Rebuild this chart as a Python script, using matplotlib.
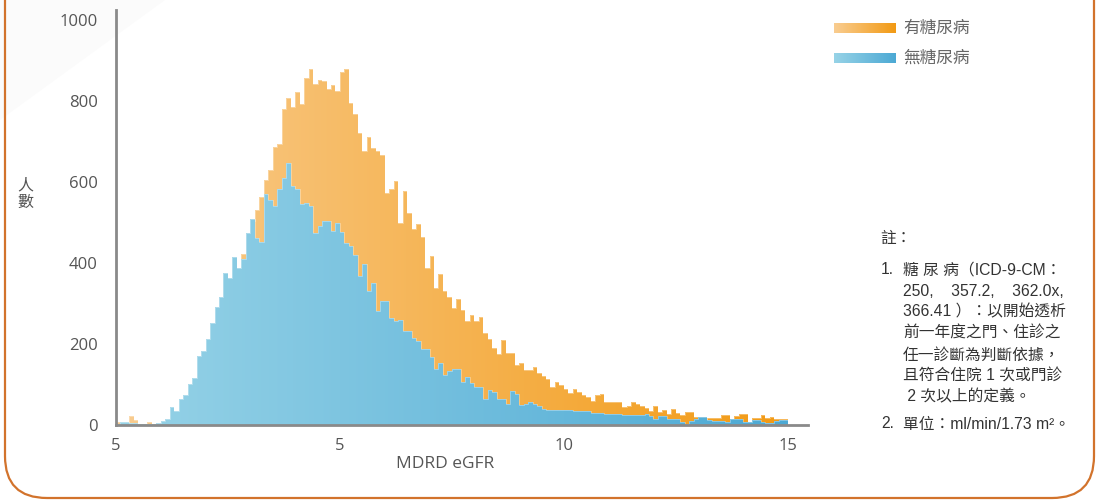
import numpy as np
import matplotlib
matplotlib.use('Agg')
import matplotlib.pyplot as plt
from matplotlib.colors import LinearSegmentedColormap
from matplotlib.patches import FancyBboxPatch, Polygon

# ---------------- data ----------------
bin_start = 0.0
bin_width = 0.1

diabetes = [7, 3, 2, 22, 12, 1, 3, 7, 1, 3,
            5, 8, 20, 18, 30, 38, 55, 68, 100, 115,
            140, 175, 210, 240, 300, 310, 370, 380, 422, 470,
            505, 530, 563, 605, 631, 686, 694, 780, 807, 786,
            822, 792, 856, 879, 841, 853, 849, 831, 839, 826,
            872, 879, 796, 768, 722, 677, 711, 683, 677, 668,
            574, 584, 602, 500, 579, 523, 484, 496, 465, 387,
            418, 339, 374, 332, 316, 288, 310, 283, 258, 272,
            257, 266, 226, 213, 189, 175, 210, 179, 179, 147,
            152, 137, 137, 144, 129, 122, 113, 95, 105, 100,
            90, 78, 89, 82, 74, 70, 59, 73, 76, 58,
            58, 58, 58, 44, 47, 58, 51, 47, 41, 35,
            47, 31, 37, 26, 40, 29, 25, 32, 32, 20,
            16, 16, 18, 18, 18, 25, 25, 16, 21, 27,
            27, 6, 18, 18, 24, 18, 20, 16, 14, 14]

no_diabetes = [2, 8, 7, 5, 4, 3, 3, 2, 2, 6,
               10, 16, 45, 35, 64, 73, 101, 116, 170, 184,
               212, 253, 291, 315, 376, 364, 415, 388, 409, 473,
               508, 462, 453, 570, 556, 542, 583, 611, 646, 590,
               583, 547, 549, 542, 473, 492, 504, 504, 479, 499,
               476, 450, 442, 420, 367, 398, 330, 351, 281, 307,
               307, 265, 258, 259, 232, 232, 216, 208, 187, 187,
               167, 139, 153, 124, 134, 138, 138, 106, 119, 104,
               94, 94, 63, 86, 82, 63, 63, 53, 84, 77,
               49, 53, 57, 52, 47, 39, 37, 37, 37, 37,
               37, 37, 34, 34, 34, 34, 30, 30, 30, 26,
               26, 27, 27, 24, 24, 24, 24, 24, 26, 22,
               15, 21, 21, 15, 15, 14, 8, 2, 10, 14,
               19, 19, 12, 11, 11, 11, 7, 15, 15, 14,
               8, 8, 12, 12, 7, 4, 4, 10, 12, 12]

x_ticks = [0, 5, 10, 15]
x_tick_labels = ['5', '5', '10', '15']
y_ticks = [0, 200, 400, 600, 800, 1000]
legend_labels = ['有糖尿病', '無糖尿病']
x_label = 'MDRD eGFR'
y_label = '人\n數'
note_title = '註：'
note_lines = ['糖 尿 病（ICD-9-CM：',
              '250,    357.2,    362.0x,',
              '366.41 ）：以開始透析',
              '前一年度之門、住診之',
              '任一診斷為判斷依據，',
              '且符合住院 1 次或門診',
              ' 2 次以上的定義。']
note2 = '單位：ml/min/1.73 m²。'

orange_grad = ['#F9CD91', '#F29A14']
blue_grad = ['#97D3E7', '#4CA9D4']

LAT = ['Open Sans', 'Noto Sans CJK TC', 'DejaVu Sans']
NOTE = ['Liberation Sans', 'Noto Sans CJK TC', 'DejaVu Sans']
CJK = ['Noto Sans CJK TC', 'DejaVu Sans']

W, H = 1097, 503
fig = plt.figure(figsize=(W / 100, H / 100), dpi=100)


def fx(px):
    return px / W


def fy(py):
    return 1 - py / H


# faint background corner shade
fig.add_artist(Polygon([(fx(0), fy(0)), (fx(0), fy(120)), (fx(165), fy(0))],
                       closed=True, facecolor='#fbfbfb', edgecolor='none',
                       transform=fig.transFigure, zorder=0))

ax = fig.add_axes([fx(116), fy(425), (808 - 116) / W, (425 - 10) / H])
ax.patch.set_alpha(0)
edges = bin_start + bin_width * np.arange(len(diabetes) + 1)


def grad_hist(vals, colors, z):
    sp = ax.stairs(vals, edges, fill=True, facecolor='none',
                   edgecolor='none', zorder=z)
    cmap = LinearSegmentedColormap.from_list('g', colors)
    grad = np.linspace(0, 1, 256).reshape(1, -1)
    im = ax.imshow(grad, cmap=cmap, extent=(edges[0], edges[-1], 0, max(vals) + 5),
                   aspect='auto', origin='lower', zorder=z,
                   interpolation='bilinear')
    im.set_clip_path(sp)
    ax.stairs(vals, edges, fill=False, edgecolor='white', lw=0.5,
              alpha=0.45, zorder=z + 0.1)


grad_hist(diabetes, orange_grad, 2)
grad_hist(no_diabetes, blue_grad, 3)

ax.set_xlim(0, 15.45)
ax.set_ylim(0, 1025)
ax.set_aspect('auto')

for s in ['top', 'right']:
    ax.spines[s].set_visible(False)
for s in ['left', 'bottom']:
    ax.spines[s].set_color('#8a8a8a')
    ax.spines[s].set_linewidth(2)
    ax.spines[s].set_zorder(5)

ax.set_xticks(x_ticks)
ax.set_xticklabels(x_tick_labels)
ax.set_yticks(y_ticks)
ax.set_yticklabels([str(v) for v in y_ticks])
ax.tick_params(axis='both', length=0, labelsize=12, colors='#555555')
ax.tick_params(axis='y', pad=13)
ax.tick_params(axis='x', pad=9)
for lab in ax.get_xticklabels() + ax.get_yticklabels():
    lab.set_family(LAT)

fig.text(fx(445), fy(464), x_label, ha='center', va='center',
         fontsize=12.5, color='#555555', family=LAT)
fig.text(fx(25), fy(194), y_label, ha='center', va='center',
         fontsize=11.5, color='#555555', family=CJK, linespacing=1.05)

# legend
cmaps = [orange_grad, blue_grad]
for i, (lab, cols) in enumerate(zip(legend_labels, cmaps)):
    yc = 28 + 30 * i
    lax = fig.add_axes([fx(834), fy(yc + 5), 62 / W, 10 / H])
    lax.imshow(np.linspace(0, 1, 256).reshape(1, -1),
               cmap=LinearSegmentedColormap.from_list('l', cols),
               aspect='auto', interpolation='bilinear')
    lax.axis('off')
    fig.text(fx(903), fy(yc), lab, ha='left', va='center', fontsize=12,
             color='#666666', family=CJK)

# notes
NFS = 11.3
fig.text(fx(880), fy(238), note_title, ha='left', va='center', fontsize=NFS,
         color='#333333', family=NOTE)
fig.text(fx(881), fy(270), '1.', ha='left', va='center', fontsize=NFS,
         color='#333333', family=NOTE)
line_y = [270, 291, 312, 333, 355, 376, 397]
for ly, t in zip(line_y, note_lines):
    fig.text(fx(903), fy(ly), t, ha='left', va='center', fontsize=NFS,
             color='#333333', family=NOTE)
fig.text(fx(881), fy(424), '2.', ha='left', va='center', fontsize=NFS,
         color='#333333', family=NOTE)
fig.text(fx(903), fy(424), note2, ha='left', va='center', fontsize=NFS,
         color='#333333', family=NOTE)

# frame
frame = FancyBboxPatch((0.05, 0.05), 10.89, 6.0,
                       boxstyle='round,pad=0,rounding_size=0.42',
                       transform=fig.dpi_scale_trans, facecolor='none',
                       edgecolor='#D2732C', lw=1.6, clip_on=False)
fig.add_artist(frame)

fig.savefig('out.png', dpi=100)
